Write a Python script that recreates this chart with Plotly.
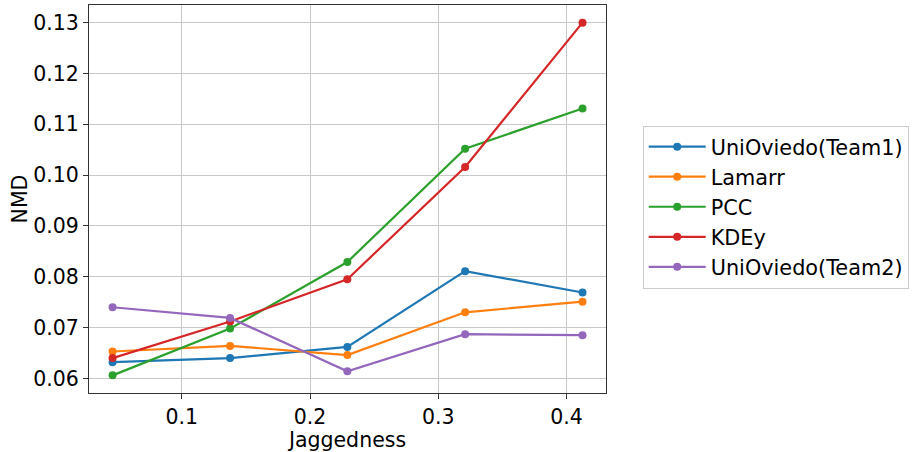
import plotly.graph_objects as go

jaggedness = [0.0461, 0.1377, 0.2291, 0.3209, 0.4124]
series_names = ["UniOviedo(Team1)", "Lamarr", "PCC", "KDEy", "UniOviedo(Team2)"]
team1 = [0.0632, 0.0640, 0.0662, 0.0811, 0.0769]
lamarr = [0.0653, 0.0664, 0.0646, 0.0730, 0.0751]
pcc = [0.0606, 0.0698, 0.0829, 0.1052, 0.1131]
kdey = [0.0640, 0.0712, 0.0795, 0.1016, 0.1300]
team2 = [0.0740, 0.0719, 0.0614, 0.0687, 0.0685]
colors = ["#1f77b4", "#ff7f0e", "#2ca02c", "#d62728", "#9467bd"]

x_ticks = [0.1, 0.2, 0.3, 0.4]
x_tick_labels = ["0.1", "0.2", "0.3", "0.4"]
y_ticks = [0.06, 0.07, 0.08, 0.09, 0.10, 0.11, 0.12, 0.13]
y_tick_labels = ["0.06", "0.07", "0.08", "0.09", "0.10", "0.11", "0.12", "0.13"]

fig = go.Figure()
for i, (name, vals) in enumerate(zip(series_names, [team1, lamarr, pcc, kdey, team2])):
    fig.add_trace(go.Scatter(
        x=jaggedness, y=vals, name=name, mode="lines+markers",
        line=dict(color=colors[i], width=2.2),
        marker=dict(color=colors[i], size=8),
        legendgroup=f"g{i}",
    ))

font = dict(family="DejaVu Sans", size=20.5, color="black")
legend_font = dict(family="DejaVu Sans", size=20.8, color="black")
axis_common = dict(
    showline=True, linecolor="#333333", linewidth=1, mirror=True,
    ticks="outside", ticklen=5, tickwidth=1, tickcolor="#333333",
    showgrid=True, gridcolor="#c8c8c8", gridwidth=1, zeroline=False,
    tickfont=font, automargin=False,
)
fig.update_layout(
    width=914, height=452,
    margin=dict(l=89, r=304, t=5, b=59),
    plot_bgcolor="white", paper_bgcolor="white",
    font=font,
    showlegend=True,
    legend=dict(
        x=1.071, xanchor="left", y=0.479, yanchor="middle",
        bordercolor="#cccccc", borderwidth=1, bgcolor="white",
        font=legend_font, traceorder="grouped", tracegroupgap=0,
        itemwidth=57,
    ),
    xaxis=dict(
        range=[0.02773, 0.4307], tickvals=x_ticks, ticktext=x_tick_labels,
        title=dict(text="Jaggedness", font=font, standoff=0), **axis_common,
    ),
    yaxis=dict(
        range=[0.05713, 0.13347], tickvals=y_ticks, ticktext=y_tick_labels,
        title=dict(text="NMD", font=font, standoff=0), **axis_common,
    ),
)
fig.write_html("out.html", config={"displayModeBar": False},
               post_script="document.body.style.margin='0';")
